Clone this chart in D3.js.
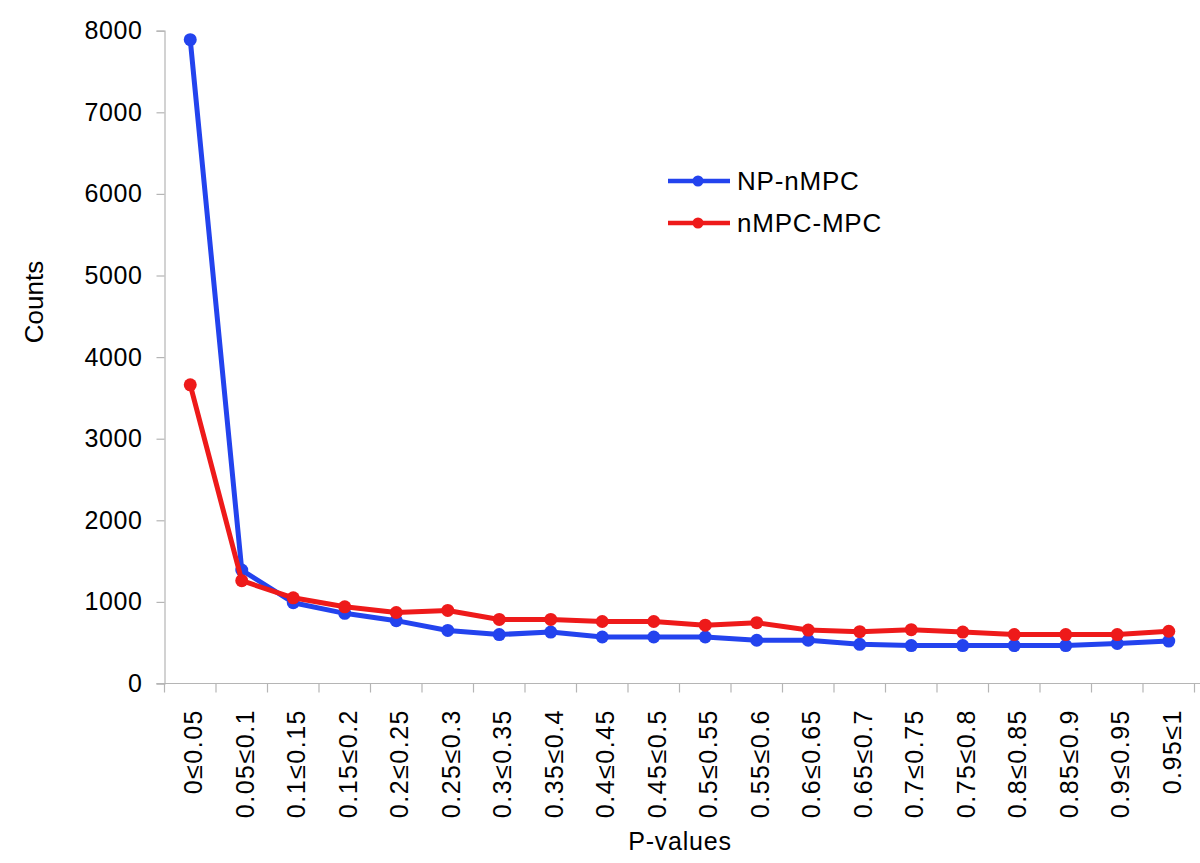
<!DOCTYPE html>
<html>
<head>
<meta charset="utf-8">
<script src="https://cdn.jsdelivr.net/npm/d3@7"></script>
<style>
  html, body { margin: 0; padding: 0; background: #fff; }
  svg { display: block; }
  text { font-family: "Liberation Sans", Arial, sans-serif; fill: #000; }
</style>
</head>
<body>
<svg id="chart" width="1200" height="863"></svg>
<script>
const categories = ["0≤0.05","0.05≤0.1","0.1≤0.15","0.15≤0.2","0.2≤0.25","0.25≤0.3","0.3≤0.35","0.35≤0.4","0.4≤0.45","0.45≤0.5","0.5≤0.55","0.55≤0.6","0.6≤0.65","0.65≤0.7","0.7≤0.75","0.75≤0.8","0.8≤0.85","0.85≤0.9","0.9≤0.95","0.95≤1"];
const npNmpc = [7890, 1390, 990, 860, 770, 650, 600, 630, 570, 570, 570, 530, 530, 480, 465, 465, 465, 465, 490, 520];
const nmpcMpc = [3660, 1260, 1050, 940, 870, 895, 785, 785, 760, 760, 715, 745, 655, 635, 660, 630, 600, 600, 600, 640];
const yTicks = [0, 1000, 2000, 3000, 4000, 5000, 6000, 7000, 8000];
const seriesNames = ["NP-nMPC", "nMPC-MPC"];
const seriesColors = ["#2343ee", "#ee1a1a"];

const svg = d3.select("#chart");
const plotLeft = 164.5, plotRight = 1194.5, plotTop = 30.7, plotBottom = 683.5;

const x = d3.scaleBand().domain(categories).range([plotLeft, plotRight]).padding(0);
const y = d3.scaleLinear().domain([0, 8000]).range([plotBottom, plotTop]);
const axisColor = "#b5b5b5";

// Y axis
const yAxis = svg.append("g").attr("transform", `translate(${plotLeft},0)`)
  .call(d3.axisLeft(y).tickValues(yTicks).tickSize(8).tickPadding(14).tickFormat(d3.format("d")));
yAxis.select(".domain").attr("stroke", axisColor).attr("stroke-width", 1.2);
yAxis.selectAll(".tick line").attr("stroke", axisColor).attr("stroke-width", 1.2);
yAxis.selectAll(".tick text").attr("font-size", 25).attr("letter-spacing", 0.6)
  .attr("font-family", "Liberation Sans, Arial, sans-serif").attr("fill", "#000");

// X axis
const xAxis = svg.append("g").attr("transform", `translate(0,${plotBottom})`);
xAxis.append("line").attr("x1", plotLeft - 8).attr("x2", 1200).attr("y1", 0).attr("y2", 0)
  .attr("stroke", axisColor).attr("stroke-width", 1.2);
const bounds = categories.map(c => x(c)).concat([x(categories[categories.length - 1]) + x.bandwidth()]);
xAxis.selectAll("line.tk").data(bounds).enter().append("line").attr("class", "tk")
  .attr("x1", d => d).attr("x2", d => d).attr("y1", 0).attr("y2", 9)
  .attr("stroke", axisColor).attr("stroke-width", 1.2);
svg.append("g").selectAll("text").data(categories).enter().append("text")
  .attr("transform", d => `translate(${x(d) + x.bandwidth() / 2 + 12},709) rotate(-90)`)
  .attr("text-anchor", "end").attr("font-size", 25).attr("letter-spacing", 1.5).text(d => d);

// Axis titles
svg.append("text").attr("transform", "translate(43,302) rotate(-90)")
  .attr("text-anchor", "middle").attr("font-size", 26).text("Counts");
svg.append("text").attr("x", 680).attr("y", 850)
  .attr("text-anchor", "middle").attr("font-size", 25).attr("letter-spacing", 0.8).text("P-values");

// Lines
const line = d3.line().x((d, i) => x(categories[i]) + x.bandwidth() / 2).y(d => y(d));
[npNmpc, nmpcMpc].forEach((data, k) => {
  const g = svg.append("g");
  g.append("path").datum(data).attr("d", line).attr("fill", "none")
    .attr("stroke", seriesColors[k]).attr("stroke-width", 5).attr("stroke-linejoin", "round");
  g.selectAll("circle").data(data).enter().append("circle")
    .attr("cx", (d, i) => x(categories[i]) + x.bandwidth() / 2)
    .attr("cy", d => y(d)).attr("r", 6.5).attr("fill", seriesColors[k]);
});

// Legend
const legendY = [181, 223];
seriesNames.forEach((name, k) => {
  const g = svg.append("g");
  g.append("line").attr("x1", 668).attr("x2", 730).attr("y1", legendY[k]).attr("y2", legendY[k])
    .attr("stroke", seriesColors[k]).attr("stroke-width", 4.5);
  g.append("circle").attr("cx", 698).attr("cy", legendY[k]).attr("r", 5.5).attr("fill", seriesColors[k]);
  g.append("text").attr("x", 737).attr("y", legendY[k] + 9).attr("font-size", 26)
    .attr("letter-spacing", 0.8).text(name);
});
</script>
</body>
</html>
